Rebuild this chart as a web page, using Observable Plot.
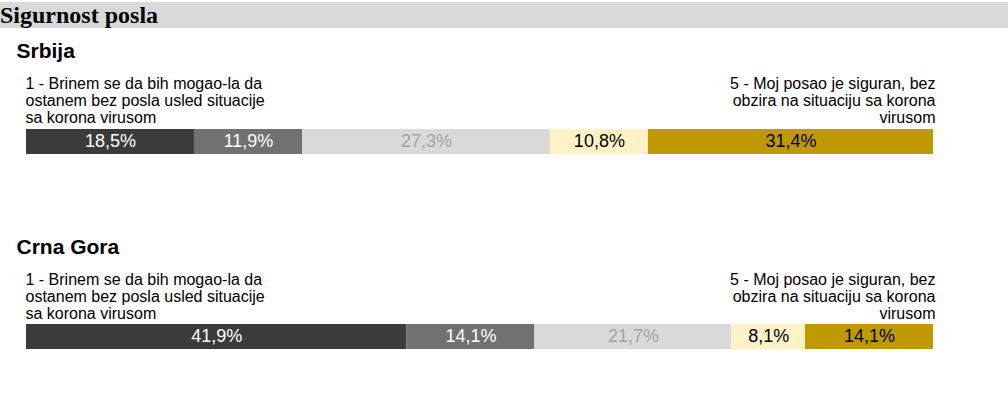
<!DOCTYPE html>
<html>
<head>
<meta charset="utf-8">
<script src="https://cdn.jsdelivr.net/npm/d3@7"></script>
<script src="https://cdn.jsdelivr.net/npm/@observablehq/plot@0.6"></script>
<style>
  body { margin: 0; background: #fff; }
  #title {
    margin-top: 2px;
    height: 26px;
    line-height: 26px;
    background: #d9d9d9;
    font: bold 24px "Liberation Serif", "Times New Roman", serif;
    color: #000;
    padding-left: 0;
    white-space: nowrap;
  }
  #chart svg { display: block; }
</style>
</head>
<body>
<div id="title">Sigurnost posla</div>
<div id="chart"></div>
<script>
// Answer scale 1–5, share of respondents (%)
const categories = ["1", "2", "3", "4", "5"];
const countries = ["Srbija", "Crna Gora"];
const srbija = [18.5, 11.9, 27.3, 10.8, 31.4];
const crnaGora = [41.9, 14.1, 21.7, 8.1, 14.1];

const barColors = ["#3b3b3b", "#717171", "#d9d9d9", "#fff2c7", "#bf9900"];
const textColors = ["#ffffff", "#ffffff", "#a3a3a3", "#000000", "#000000"];

const lowLabel = "1 - Brinem se da bih mogao-la da\nostanem bez posla usled situacije\nsa korona virusom";
const highLabel = "5 - Moj posao je siguran, bez\nobzira na situaciju sa korona\nvirusom";

const series = [srbija, crnaGora];
const rows = countries.flatMap((country, i) =>
  series[i].map((value, j) => ({country, cat: j, value}))
);
const heads = countries.map((country, i) => ({country, start: 0, total: d3.sum(series[i])}));

const fmt = v => v.toFixed(1).replace(".", ",") + "%";
const font = '"Liberation Sans", Arial, sans-serif';

const chart = Plot.plot({
  width: 1008,
  height: 384,
  style: {fontFamily: font, background: "#fff"},
  x: {domain: [0, 99.9], range: [26, 933], axis: null},
  y: {domain: countries, range: [101, 321], paddingInner: 0.8718, paddingOuter: 0, round: false, axis: null},
  marks: [
    Plot.barX(rows, Plot.stackX({
      x: "value", y: "country", order: null,
      fill: d => barColors[d.cat]
    })),
    Plot.text(rows, Plot.stackX({
      x: "value", y: "country", order: null,
      text: d => fmt(d.value),
      fill: d => textColors[d.cat],
      fontSize: 18, dy: -1
    })),
    // scale-end captions above each bar
    Plot.text(heads, {
      x: "start", y: "country", text: () => lowLabel,
      textAnchor: "start", lineAnchor: "bottom", lineHeight: 1.0625,
      fontSize: 16, fill: "#000", dx: -1, dy: -18.5
    }),
    Plot.text(heads, {
      x: "total", y: "country", text: () => highLabel,
      textAnchor: "end", lineAnchor: "bottom", lineHeight: 1.0625,
      fontSize: 16, fill: "#000", dx: 2, dy: -18.5
    }),
    // country headings
    Plot.text(heads, {
      x: "start", y: "country", text: "country",
      textAnchor: "start", lineAnchor: "bottom",
      fontSize: 21, fontWeight: "bold", fill: "#000", dx: -10, dy: -83.5
    })
  ]
});
document.getElementById("chart").appendChild(chart);
</script>
</body>
</html>
